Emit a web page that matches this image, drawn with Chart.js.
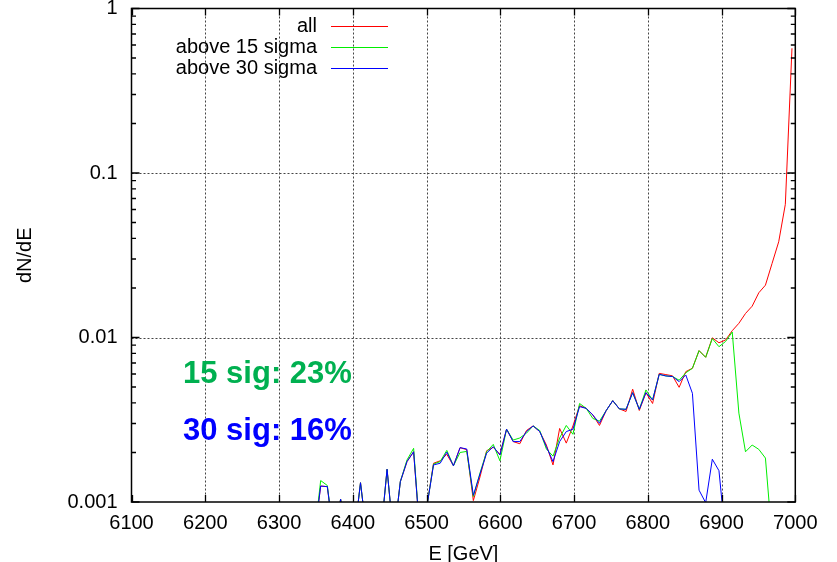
<!DOCTYPE html>
<html><head><meta charset="utf-8">
<script src="https://cdn.jsdelivr.net/npm/chart.js@4/dist/chart.umd.min.js"></script>
<style>html,body{margin:0;padding:0;background:#fff;}canvas{display:block;}</style>
</head><body>
<canvas id="c" width="837" height="562"></canvas>
<script>
// bin centres (GeV)
const energies = [6347.5, 6356.5, 6365.5, 6374.5, 6383.5, 6392.5, 6401.5, 6410.5, 6419.5, 6428.5,
  6437.5, 6446.5, 6455.5, 6464.5, 6473.5, 6482.5, 6491.5, 6500.5, 6509.5, 6518.5,
  6527.5, 6536.5, 6545.5, 6554.5, 6563.5, 6572.5, 6581.5, 6590.5, 6599.5, 6608.5,
  6617.5, 6626.5, 6635.5, 6644.5, 6653.5, 6662.5, 6671.5, 6680.5, 6689.5, 6698.5,
  6707.5, 6716.5, 6725.5, 6734.5, 6743.5, 6752.5, 6761.5, 6770.5, 6779.5, 6788.5,
  6797.5, 6806.5, 6815.5, 6824.5, 6833.5, 6842.5, 6851.5, 6860.5, 6869.5, 6878.5,
  6887.5, 6896.5, 6905.5, 6914.5, 6923.5, 6932.5, 6941.5, 6950.5, 6959.5, 6968.5,
  6977.5, 6986.5, 6995.5];

const allEvents = [0.0006, 0.00125, 0.00124, 0.0006, 0.00104, 0.0006, 0.0006, 0.00131, 0.0006, 0.0006,
  0.0006, 0.00158, 0.0006, 0.00133, 0.00176, 0.00202, 0.0006, 0.00094, 0.00172, 0.00178,
  0.00195, 0.00166, 0.00214, 0.00208, 0.00102, 0.00142, 0.00205, 0.00215, 0.00195, 0.00277,
  0.00233, 0.00226, 0.00272, 0.00290, 0.00268, 0.00222, 0.00168, 0.00280, 0.00228, 0.00290,
  0.00385, 0.00371, 0.00338, 0.00292, 0.00359, 0.00413, 0.00368, 0.00355, 0.00485, 0.00360,
  0.00462, 0.00397, 0.00605, 0.00595, 0.00585, 0.00498, 0.00620, 0.00650, 0.00832, 0.00758,
  0.00995, 0.00929, 0.00966, 0.0110, 0.0122, 0.0140, 0.0155, 0.0187, 0.0208, 0.0282,
  0.0382, 0.0645, 0.573];

const above15Sigma = [0.0006, 0.00135, 0.00126, 0.0006, 0.00104, 0.0006, 0.0006, 0.00131, 0.0006, 0.0006,
  0.0006, 0.00158, 0.0006, 0.00133, 0.00180, 0.00212, 0.0006, 0.00094, 0.00170, 0.00176,
  0.00206, 0.00166, 0.00200, 0.00203, 0.00108, 0.00150, 0.00202, 0.00224, 0.00178, 0.00277,
  0.00238, 0.00245, 0.00262, 0.00290, 0.00272, 0.00210, 0.00190, 0.00245, 0.00292, 0.00258,
  0.00397, 0.00371, 0.00322, 0.00310, 0.00359, 0.00413, 0.00368, 0.00366, 0.00462, 0.00366,
  0.00480, 0.00417, 0.00597, 0.00584, 0.00579, 0.00550, 0.00610, 0.00650, 0.00832, 0.00758,
  0.00985, 0.00879, 0.00946, 0.0108, 0.00347, 0.00202, 0.00222, 0.00209, 0.00185, 0.0006,
  null, null, null];

const above30Sigma = [0.0006, 0.00125, 0.00124, 0.0006, 0.00104, 0.0006, 0.0006, 0.00131, 0.0006, 0.0006,
  0.0006, 0.00158, 0.0006, 0.00133, 0.00176, 0.00202, 0.0006, 0.00094, 0.00168, 0.00172,
  0.00201, 0.00166, 0.00214, 0.00210, 0.00110, 0.00148, 0.00198, 0.00217, 0.00193, 0.00277,
  0.00233, 0.00233, 0.00268, 0.00290, 0.00268, 0.00217, 0.00176, 0.00233, 0.00268, 0.00277,
  0.00380, 0.00371, 0.00338, 0.00301, 0.00359, 0.00413, 0.00368, 0.00366, 0.00462, 0.00366,
  0.00462, 0.00417, 0.00597, 0.00584, 0.00579, 0.00539, 0.00592, 0.00458, 0.00118, 0.00099,
  0.00182, 0.00155, 0.0006, null, null, null, null, null, null, null,
  null, null, null];

const xTickValues = [6100, 6200, 6300, 6400, 6500, 6600, 6700, 6800, 6900, 7000];
const xTickLabels = ['6100', '6200', '6300', '6400', '6500', '6600', '6700', '6800', '6900', '7000'];
const yTickValues = [0.001, 0.01, 0.1, 1];
const yTickLabels = ['0.001', '0.01', '0.1', '1'];
const seriesNames = ['all', 'above 15 sigma', 'above 30 sigma'];
const annotationTexts = ['15 sig: 23%', '30 sig: 16%'];

const FONT = '"Liberation Sans", Arial, Helvetica, sans-serif';
const seriesColors = ['#ff0000', '#00ee00', '#0000ff'];

function toPoints(arr) { return energies.map((e, i) => ({ x: e, y: arr[i] })); }

const framePlugin = {
  id: 'frame',
  beforeDatasetsDraw(chart) {
    const { ctx, chartArea: a, scales: { x, y } } = chart;
    ctx.save();
    ctx.strokeStyle = '#444';
    ctx.lineWidth = 1;
    ctx.setLineDash([2, 2]);
    xTickValues.slice(1, -1).forEach(v => {
      const px = Math.round(x.getPixelForValue(v)) + 0.5;
      ctx.beginPath(); ctx.moveTo(px, a.top); ctx.lineTo(px, a.bottom); ctx.stroke();
    });
    yTickValues.slice(1, -1).forEach(v => {
      const py = Math.round(y.getPixelForValue(v)) + 0.5;
      ctx.beginPath(); ctx.moveTo(a.left, py); ctx.lineTo(a.right, py); ctx.stroke();
    });
    ctx.restore();
  },
  afterDatasetsDraw(chart) {
    const { ctx, chartArea: a, scales: { x, y } } = chart;
    ctx.save();
    ctx.strokeStyle = '#000';
    ctx.lineWidth = 1.5;
    ctx.setLineDash([]);
    ctx.strokeRect(a.left, a.top, a.right - a.left, a.bottom - a.top);
    ctx.lineWidth = 1.3;
    // x major ticks, bottom and top, pointing inward
    xTickValues.forEach(v => {
      const px = Math.round(x.getPixelForValue(v)) + 0.5;
      ctx.beginPath();
      ctx.moveTo(px, a.bottom); ctx.lineTo(px, a.bottom - 7);
      ctx.moveTo(px, a.top); ctx.lineTo(px, a.top + 7);
      ctx.stroke();
    });
    // y major + minor ticks, left and right
    yTickValues.forEach((v, k) => {
      const py = y.getPixelForValue(v);
      ctx.beginPath();
      ctx.moveTo(a.left, py); ctx.lineTo(a.left + 8, py);
      ctx.moveTo(a.right, py); ctx.lineTo(a.right - 8, py);
      ctx.stroke();
      if (k < yTickValues.length - 1) {
        for (let m = 2; m <= 9; m++) {
          const pm = y.getPixelForValue(v * m);
          ctx.beginPath();
          ctx.moveTo(a.left, pm); ctx.lineTo(a.left + 4.5, pm);
          ctx.moveTo(a.right, pm); ctx.lineTo(a.right - 4.5, pm);
          ctx.stroke();
        }
      }
    });
    // key
    ctx.font = '20px ' + FONT;
    ctx.textAlign = 'right';
    ctx.textBaseline = 'middle';
    ctx.fillStyle = '#000';
    const rows = [26, 47.3, 68];
    seriesNames.forEach((name, i) => {
      ctx.fillText(name, 317, rows[i]);
      ctx.strokeStyle = seriesColors[i];
      ctx.lineWidth = 1;
      ctx.beginPath(); ctx.moveTo(331, Math.round(rows[i]) + 0.5); ctx.lineTo(388, Math.round(rows[i]) + 0.5); ctx.stroke();
    });
    // labels
    ctx.font = 'bold 31px ' + FONT;
    ctx.textAlign = 'left';
    ctx.textBaseline = 'alphabetic';
    ctx.fillStyle = '#00b050';
    ctx.fillText(annotationTexts[0], 183, 383);
    ctx.fillStyle = '#0000ff';
    ctx.fillText(annotationTexts[1], 183, 440);
    ctx.restore();
  }
};

new Chart(document.getElementById('c'), {
  type: 'line',
  data: {
    datasets: [
      { label: seriesNames[0], data: toPoints(allEvents), borderColor: seriesColors[0], order: 2 },
      { label: seriesNames[1], data: toPoints(above15Sigma), borderColor: seriesColors[1], order: 1 },
      { label: seriesNames[2], data: toPoints(above30Sigma), borderColor: seriesColors[2], order: 0 }
    ]
  },
  options: {
    responsive: false,
    animation: false,
    devicePixelRatio: 1,
    layout: { padding: { left: 0, right: 41.7, top: 8.5, bottom: 0 } },
    plugins: { legend: { display: false }, tooltip: { enabled: false } },
    elements: { point: { radius: 0 }, line: { borderWidth: 1, tension: 0, fill: false } },
    scales: {
      x: {
        type: 'linear', min: 6100, max: 7000,
        afterBuildTicks(s) { s.ticks = xTickValues.map(v => ({ value: v })); },
        afterFit(s) { s.height = 60; s.paddingLeft = 0; s.paddingRight = 0; },
        ticks: {
          callback: v => xTickLabels[xTickValues.indexOf(v)],
          font: { family: FONT, size: 20 }, color: '#000', padding: 9,
          maxRotation: 0, autoSkip: false
        },
        grid: { display: false, drawTicks: false },
        border: { display: false },
        title: { display: true, text: 'E [GeV]', color: '#000', font: { family: FONT, size: 20 }, padding: { top: 0, bottom: -4 } }
      },
      y: {
        type: 'logarithmic', min: 0.001, max: 1,
        afterBuildTicks(s) { s.ticks = yTickValues.map(v => ({ value: v })); },
        afterFit(s) { s.width = 131.5; s.paddingTop = 0; s.paddingBottom = 0; },
        ticks: {
          callback: v => yTickLabels[yTickValues.indexOf(v)],
          font: { family: FONT, size: 20 }, color: '#000', padding: 14, autoSkip: false
        },
        grid: { display: false, drawTicks: false },
        border: { display: false },
        title: { display: true, text: 'dN/dE', color: '#000', font: { family: FONT, size: 20 }, padding: { top: 13, bottom: 0 } }
      }
    }
  },
  plugins: [framePlugin]
});
</script>
</body></html>
